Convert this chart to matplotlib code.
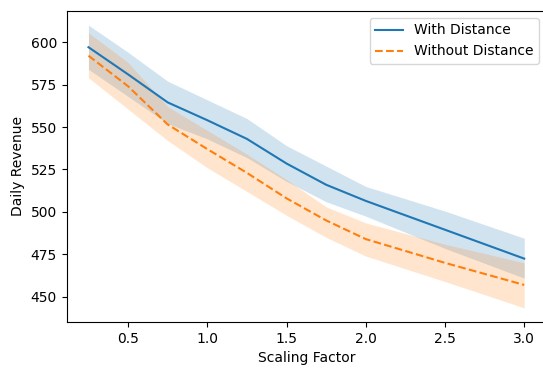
import matplotlib
matplotlib.use("Agg")
import matplotlib.pyplot as plt

# values
scale = [0.25, 0.5, 0.75, 1.0, 1.25, 1.5, 1.75, 2.0, 2.5, 3.0]

with_mean = [597, 581, 564.5, 554, 543, 528.5, 516, 506.5, 489.5, 472.5]
with_lo = [584, 568, 552, 543, 532, 518, 506, 497.5, 478.5, 461]
with_hi = [610, 594, 577, 566, 555, 539, 527, 515, 500.5, 484.5]

without_mean = [592, 574, 551.5, 537, 523, 508, 495, 484, 470, 457]
without_lo = [579, 560.5, 542, 526, 512, 498, 485, 474, 459, 443.5]
without_hi = [605.5, 588, 562, 548, 534, 519, 503, 493.5, 481, 470]

fig = plt.figure(figsize=(5.43, 3.69), dpi=100)
ax = fig.add_axes([0.1228, 0.1274, 0.8827, 0.8428])

ax.plot(scale, with_mean, color="#1f77b4", label="With Distance")
ax.fill_between(scale, with_lo, with_hi, color="#1f77b4", alpha=0.2, linewidth=0)

ax.plot(scale, without_mean, color="#ff7f0e", linestyle="--", label="Without Distance")
ax.fill_between(scale, without_lo, without_hi, color="#ff7f0e", alpha=0.2, linewidth=0)

ax.set_xlabel("Scaling Factor")
ax.set_ylabel("Daily Revenue")
ax.set_yticks([450, 475, 500, 525, 550, 575, 600])
ax.set_xticks([0.5, 1.0, 1.5, 2.0, 2.5, 3.0])
ax.legend(loc="upper right")

fig.savefig("out.png", dpi=100)
